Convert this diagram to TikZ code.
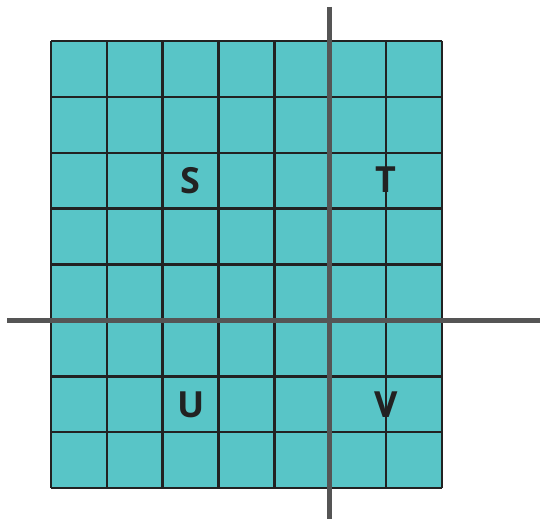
\documentclass[tikz,border=0pt]{standalone}
\usepackage{fontspec}
\setsansfont{Open Sans}
\definecolor{cellfill}{RGB}{88,197,199}
\definecolor{gridline}{RGB}{34,34,34}
\definecolor{axisgray}{RGB}{85,85,85}
\begin{document}
\begin{tikzpicture}[x=1pt,y=-1pt,
  gridpen/.style={draw=gridline,line width=2.5pt},
  axispen/.style={draw=axisgray,line width=5pt},
  quad/.style={font=\sffamily\bfseries\fontsize{36}{36}\selectfont,text=gridline,inner sep=0pt}]
\useasboundingbox (0,0) rectangle (540,519);
\fill[cellfill] (51,41) rectangle (442,488);
\foreach \i in {0,...,7} {
  \draw[gridpen] ({51+\i*55.857},41) -- ({51+\i*55.857},488);
}
\foreach \j in {0,...,8} {
  \draw[gridpen] (51,{41+\j*55.875}) -- (442,{41+\j*55.875});
}
\coordinate (vtop) at (329.5,7);
\coordinate (vbot) at (329.5,519);
\coordinate (hleft) at (7,320.5);
\coordinate (hright) at (540,320.5);
\draw[axispen] (vtop) -- (vbot);
\draw[axispen] (hleft) -- (hright);
\node[quad] (S) at (190,181) {S};
\node[quad] (T) at (386,180) {T};
\node[quad] (U) at (191,405) {U};
\node[quad] (V) at (386,405) {V};
\end{tikzpicture}
\end{document}
